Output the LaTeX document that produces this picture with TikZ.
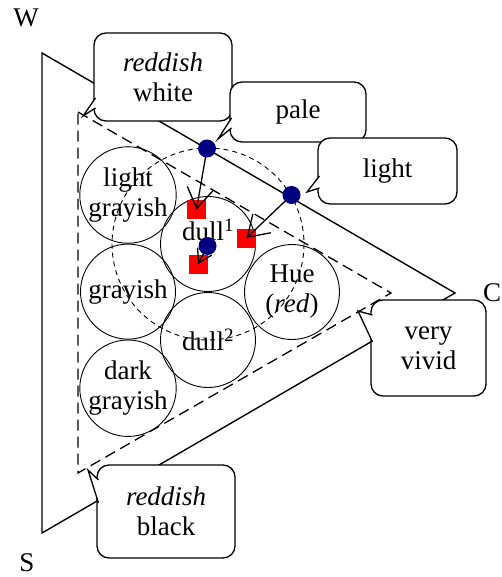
\documentclass[tikz,border=0pt]{standalone}
\usepackage{fontspec}
\setmainfont{Liberation Serif}
\usetikzlibrary{positioning, calc, arrows.meta}
\definecolor{navy}{RGB}{0,0,128}

\tikzset{
  ring/.style={draw, circle, minimum size=95pt, inner sep=0pt, align=center, line width=0.9pt},
  bubble/.style={draw, fill=white, rounded corners=12pt, align=center, line width=1.3pt, inner sep=0pt, outer sep=0pt},
  tail/.style={draw, fill=white, line width=1.3pt, line join=miter},
  corner/.style={inner sep=0pt},
  dot/.style={circle, fill=navy, minimum size=18pt, inner sep=0pt},
  patch/.style={fill=red, minimum size=19pt, inner sep=0pt},
  hop/.style={-{Straight Barb[length=20pt,width=26pt,line width=1.3pt]}, line width=1.3pt},
}

\begin{document}
\begin{tikzpicture}[x=1pt, y=-1pt, every node/.style={font=\fontsize{27}{30}\selectfont}]
        \useasboundingbox (0,0) rectangle (502,577);
        \coordinate (W) at (42,53);
        \coordinate (C) at (455,293);
        \coordinate (S) at (42,533);
        \node[corner] at (26,18) (labW) {W};
        \node[corner] at (492,293) (labC) {C};
        \node[corner] at (27,563) (labS) {S};
        \draw[line width=1.4pt] (W) -- (C) -- (S) -- cycle;
        \draw[dash pattern=on 11pt off 6pt, line width=1.3pt] (78,112) -- (391,293) -- (78,473) -- cycle;
        %---------------------------
        \node[ring] (lgray) at (128,195) {light\\grayish};
        \node[ring, below=0pt of lgray] (gray) {grayish};
        \node[ring, below=0pt of gray] (dgray) {dark\\grayish};
        \node[ring] (dullA) at (208,244) {};
        \node at ([yshift=14pt]dullA.center) (dullAtxt) {dull\textsuperscript{1}};
        \node[ring] (dullB) at (208,340) {dull\textsuperscript{2}};
        \node[ring] (hue) at (292,292) {Hue\\(\textit{red})};
        \draw[dash pattern=on 5pt off 4pt, line width=0.9pt] (dullA.center) circle (96);
        %---------------------------
        \node[patch] (sqA) at (196.5,209.5) {};
        \node[patch] (sqB) at (246.5,238) {};
        \node[patch] (sqC) at (198,264) {};
        \coordinate (fromA) at (207,148.5);
        \coordinate (fromB) at (291.5,195);
        \coordinate (fromC) at (207.5,246);
        \draw[hop] (fromA) -- (sqA.center);
        \draw[hop] (fromB) -- (sqB.center);
        \draw[-{Straight Barb[length=13pt,width=16pt,line width=1.3pt]}, line width=1.3pt] (fromC) -- (sqC.center);
        \node[dot] (dotA) at (fromA) {};
        \node[dot] (dotB) at (fromB) {};
        \node[dot] (dotC) at (fromC) {};
        %---------------------------
        \node[bubble, minimum width=138pt, minimum height=88pt] (rwhite) at (163,77) {\textit{reddish}\\white};
        \node[bubble, minimum width=136pt, minimum height=60pt] (pale) at (298,112) {pale};
        \node[bubble, minimum width=139pt, minimum height=66pt] (light) at (387.5,171) {light};
        \node[bubble, minimum width=115pt, minimum height=96pt] (vivid) at (428.5,348) {very\\vivid};
        \node[bubble, minimum width=138pt, minimum height=93pt] (rblack) at (166,511.5) {\textit{reddish}\\black};
        \coordinate (tipW) at (83,116);
        \coordinate (tipP) at (218,139);
        \coordinate (tipL) at (307,192);
        \coordinate (tipV) at (358,311);
        \coordinate (tipB) at (88,470);
        \filldraw[tail] ($(rwhite.south west)+(1.5,-23)$) -- (tipW) -- ($(rwhite.south west)+(1.5,-13)$);
        \filldraw[tail] ($(pale.south west)+(1.5,-24)$) -- (tipP) -- ($(pale.south west)+(1.5,-14)$);
        \filldraw[tail] ($(light.south west)+(1.5,-28)$) -- (tipL) -- ($(light.south west)+(1.5,-16)$);
        \filldraw[tail] ($(vivid.north west)+(1.5,15)$) -- (tipV) -- ($(vivid.north west)+(1.5,42)$);
        \filldraw[tail] ($(rblack.north west)+(1.5,15)$) -- (tipB) -- ($(rblack.north west)+(1.5,38)$);
\end{tikzpicture}
\end{document}
